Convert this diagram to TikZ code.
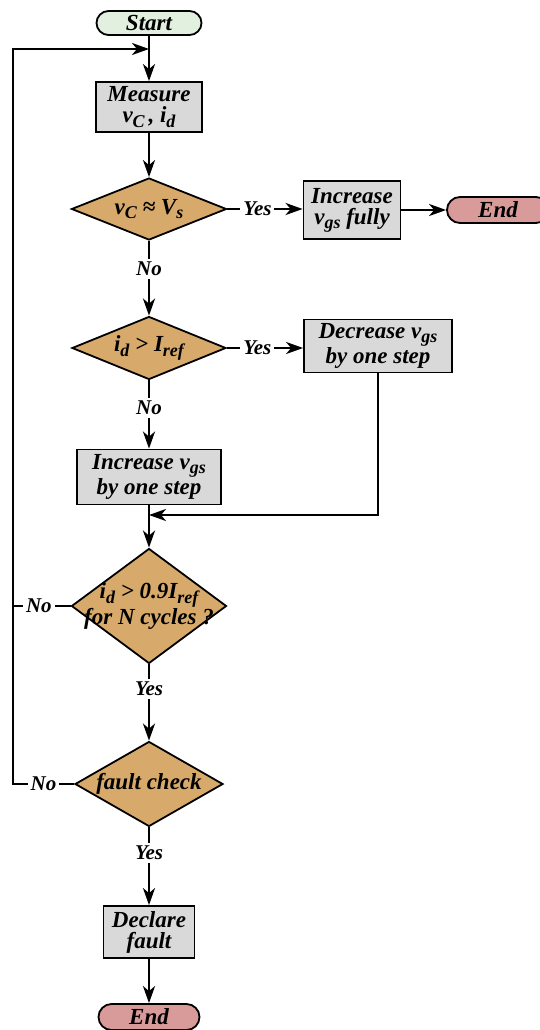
\documentclass[tikz,border=0pt]{standalone}
\usepackage{fontspec}
\setmainfont{Liberation Serif}
\usetikzlibrary{
    arrows.meta,
    shapes.geometric,
    shapes.misc,
    positioning,
    calc
}
\definecolor{startgreen}{HTML}{E1F0DF}
\definecolor{endpink}{HTML}{D99A9A}
\definecolor{boxgray}{HTML}{D9D9D9}
\definecolor{decisiontan}{HTML}{D7AA6B}
\newcommand{\low}[1]{\raisebox{-0.4ex}{\fontsize{18}{18}\selectfont #1}}

\begin{document}
\begin{tikzpicture}[x=1pt, y=1pt,
    every node/.style={font=\fontsize{23}{21}\selectfont\bfseries\itshape, align=center},
    every label/.style={inner sep=0pt},
    proc/.style={draw, line width=1.8pt, rectangle, fill=boxgray, inner sep=0pt},
    term/.style={draw, line width=1.8pt, rounded rectangle, inner sep=0pt},
    decide/.style={draw, line width=1.8pt, diamond, fill=decisiontan, inner sep=0pt},
    lbl/.style={fill=white, inner sep=3pt, font=\fontsize{21}{21}\selectfont\bfseries\itshape},
    flow/.style={line width=2.4pt, -{Stealth[length=17pt, width=12pt, inset=5pt]}},
    wire/.style={line width=2.4pt}
]
\path[use as bounding box] (0,0) rectangle (540,-1030);
\clip (0,0) rectangle (540,-1030);

\node[term, fill=startgreen, minimum width=105, minimum height=24] (start) at (149,-23) {Start};
\node[proc, minimum width=106, minimum height=50] (meas) at (149,-107) {Measure\\ v\low{C}\,, i\low{d}};
\node[decide, minimum width=155, minimum height=62,
      label=center:{v\low{C} ≈ V\low{s}}] (vc) at (149,-209) {};
\node[proc, minimum width=97, minimum height=58] (full) at (352,-210) {Increase\\ v\low{gs} fully};
\node[term, fill=endpink, minimum width=102, minimum height=26] (end1) at (498,-210) {End};
\node[decide, minimum width=154, minimum height=63,
      label=center:{i\low{d} > I\low{ref}}] (id) at (149,-348) {};
\node[proc, minimum width=148, minimum height=53] (dec) at (378,-346) {Decrease v\low{gs}\\ by one step};
\node[proc, minimum width=144, minimum height=55] (inc) at (149,-477) {Increase v\low{gs}\\ by one step};
\node[decide, minimum width=155, minimum height=115,
      label=center:{i\low{d} > 0.9I\low{ref}\\ for N cycles ?}] (cyc) at (149,-606) {};
\node[decide, minimum width=148, minimum height=85,
      label=center:{fault check}] (fault) at (149,-784) {};
\node[proc, minimum width=91, minimum height=52] (decl) at (149,-932) {Declare\\ fault};
\node[term, fill=endpink, minimum width=101, minimum height=26] (end2) at (149,-1017) {End};

\coordinate (top) at (149,-49);
\coordinate (back) at (13,-49);
\coordinate (merge) at (149,-515);

\draw[flow] (start.south) -- (meas.north);
\draw[flow] (meas) -- (vc);
\draw[flow] (vc.east) -- node[lbl, pos=0.4] {Yes} (full.west |- vc.east);
\draw[flow] (full) -- (end1);
\draw[flow] (vc.south) -- node[lbl, pos=0.37] {No} (id.north);
\draw[flow] (id.east) -- node[lbl, pos=0.4] {Yes} (dec.west |- id.east);
\draw[flow] (id.south) -- node[lbl, pos=0.4] {No} (inc.north);
\draw[flow] (dec.south) |- (merge);
\draw[flow] (inc.south) -- (cyc.north);
\draw[flow] (cyc.south) -- node[lbl, pos=0.32] {Yes} (fault.north);
\draw[flow] (fault.south) -- node[lbl, pos=0.33] {Yes} (decl.north);
\draw[flow] (decl) -- (end2);
\draw[wire] (cyc.west) -- node[lbl, pos=0.55] {No} (cyc.west -| back);
\draw[flow] (fault.west) -- node[lbl, pos=0.5] {No} (fault.west -| back) -- (back) -- (top);
\end{tikzpicture}
\end{document}
